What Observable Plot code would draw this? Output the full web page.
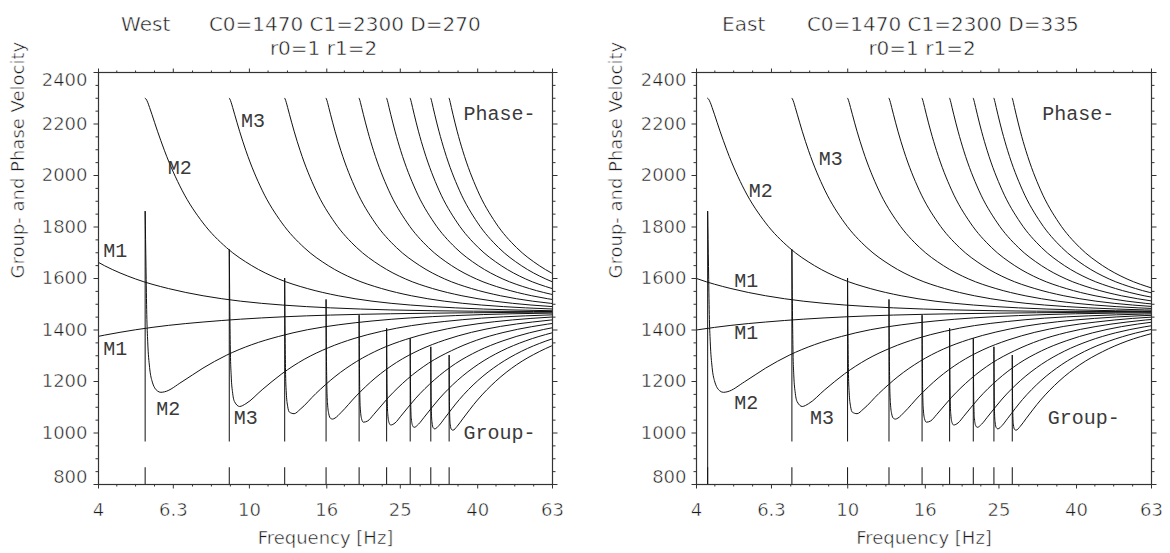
<!DOCTYPE html>
<html>
<head>
<meta charset="utf-8">
<script src="https://cdn.jsdelivr.net/npm/d3@7"></script>
<script src="https://cdn.jsdelivr.net/npm/@observablehq/plot@0.6"></script>
<style>
  html, body { margin: 0; padding: 0; background: #fff; }
  #charts { display: flex; width: 1170px; height: 553px; }
</style>
</head>
<body>
<div id="charts"></div>
<script>
// Waveguide parameters shown in the titles
const soundSpeedWater = 1470;
const soundSpeedBottom = 2300;
const densityWater = 1;
const densityBottom = 2;
const panelNames = ["West", "East"];
const panelDepths = [270, 335];

// Axis ticks
const freqTicks = [4, 6.3, 10, 16, 25, 40, 63];
const freqTickLabels = ["4", "6.3", "10", "16", "25", "40", "63"];
const freqMinorTicks = [4.47, 5.01, 5.62, 7.08, 7.94, 8.91, 11.2, 12.6, 14.1, 17.8, 20.0, 22.4, 28.2, 31.6, 35.5, 44.7, 50.1, 56.2];
const velTicks = [800, 1000, 1200, 1400, 1600, 1800, 2000, 2200, 2400];
const velMinorTicks = [850, 900, 950, 1050, 1100, 1150, 1250, 1300, 1350, 1450, 1500, 1550,
  1650, 1700, 1750, 1850, 1900, 1950, 2050, 2100, 2150, 2250, 2300, 2350];

// Modes and their cutoff frequencies [Hz]
const modeNames = ["M1", "M2", "M3", "M4", "M5", "M6", "M7", "M8", "M9", "M10"];
const cutoffWest = [1.770, 5.31, 8.85, 12.39, 15.93, 19.47, 23.01, 26.55, 30.09, 33.63];
const cutoffEast = [1.426, 4.28, 7.13, 9.99, 12.84, 15.69, 18.54, 21.40, 24.25, 27.10];

// Vertical cutoff lines of modes M2..M10 (upper end, lower end per panel)
const cutoffLineTop = [1860, 1711, 1600, 1517, 1456, 1405, 1366, 1333, 1301];
const cutoffLineFloorWest = [965, 965, 965, 965, 965, 965, 965, 965, 965];
const cutoffLineFloorEast = [800, 965, 965, 965, 965, 965, 965, 965, 965];
const cutoffMarkTop = 865;

// Dispersion samples per mode: [frequency / cutoff, phase velocity, group velocity]
const mode1 = [
  [1.9526, 1720, 1356], [2.3421, 1650, 1380], [2.8320, 1598, 1401], [3.4552, 1561, 1418],
  [4.2650, 1533, 1431], [5.3540, 1512, 1442], [6.8942, 1497, 1451], [9.2441, 1486, 1458],
  [13.293, 1478, 1463], [22.012, 1473, 1467], [31.744, 1472, 1469], [55.17, 1471, 1470]
];
const mode2 = [
  [1, 2300, 1860], [1.0051, 2297, 1646], [1.0099, 2292, 1460], [1.0157, 2284, 1354],
  [1.0273, 2264, 1255], [1.0416, 2238, 1204], [1.0779, 2172, 1163], [1.1001, 2135, 1158],
  [1.1249, 2096, 1160], [1.2508, 1943, 1199], [1.4207, 1816, 1252], [1.6383, 1720, 1302],
  [1.9105, 1650, 1343], [2.2500, 1598, 1375], [2.6779, 1561, 1401], [3.2293, 1533, 1420],
  [3.9656, 1512, 1435], [5.0012, 1497, 1447], [6.5751, 1486, 1456], [9.2797, 1478, 1463],
  [15.097, 1473, 1467]
];
const mode3 = [
  [1, 2300, 1711], [1.0034, 2297, 1476], [1.0069, 2292, 1310], [1.0114, 2284, 1226],
  [1.0209, 2264, 1154], [1.0329, 2238, 1121], [1.0646, 2172, 1103], [1.1065, 2096, 1114],
  [1.2208, 1943, 1168], [1.3763, 1816, 1230], [1.5754, 1720, 1286], [1.8242, 1650, 1331],
  [2.1336, 1598, 1367], [2.5224, 1561, 1395], [3.0222, 1533, 1417], [3.6879, 1512, 1433],
  [4.6227, 1497, 1446], [6.0413, 1486, 1455], [8.4772, 1478, 1462], [13.713, 1473, 1467]
];
const mode4 = [
  [1, 2300, 1600], [1.0026, 2297, 1372], [1.0056, 2292, 1227], [1.0096, 2284, 1159],
  [1.0181, 2264, 1104], [1.0292, 2238, 1081], [1.0589, 2172, 1075], [1.0987, 2096, 1092],
  [1.2080, 1943, 1153], [1.3572, 1816, 1219], [1.5485, 1720, 1278], [1.7872, 1650, 1326],
  [2.0838, 1598, 1363], [2.4558, 1561, 1392], [2.9334, 1533, 1415], [3.5689, 1512, 1432],
  [4.4604, 1497, 1445], [5.8125, 1486, 1455], [8.1332, 1478, 1462]
];
const mode5 = [
  [1, 2300, 1517], [1.0022, 2297, 1301], [1.0049, 2292, 1175], [1.0086, 2284, 1118],
  [1.0166, 2264, 1074], [1.0272, 2238, 1057], [1.0402, 2207, 1054], [1.0558, 2172, 1058],
  [1.0943, 2096, 1079], [1.2009, 1943, 1144], [1.3466, 1816, 1213], [1.5335, 1720, 1274],
  [1.7667, 1650, 1323], [2.0560, 1598, 1361], [2.4188, 1561, 1391], [2.8841, 1533, 1414],
  [3.5028, 1512, 1431], [4.3703, 1497, 1445], [5.6854, 1486, 1455]
];
const mode6 = [
  [1, 2300, 1456], [1.0020, 2297, 1251], [1.0045, 2292, 1139], [1.0079, 2284, 1090],
  [1.0156, 2264, 1054], [1.0258, 2238, 1042], [1.0538, 2172, 1047], [1.0916, 2096, 1071],
  [1.1963, 1943, 1139], [1.3399, 1816, 1209], [1.5240, 1720, 1271], [1.7536, 1650, 1320],
  [2.0384, 1598, 1360], [2.3952, 1561, 1390], [2.8527, 1533, 1413], [3.4607, 1512, 1431],
  [4.3129, 1497, 1445]
];
const mode7 = [
  [1, 2300, 1405], [1.0018, 2297, 1213], [1.0042, 2292, 1113], [1.0075, 2284, 1070],
  [1.0149, 2264, 1040], [1.0249, 2238, 1031], [1.0524, 2172, 1039], [1.0896, 2096, 1065],
  [1.1932, 1943, 1135], [1.3352, 1816, 1206], [1.5174, 1720, 1269], [1.7446, 1650, 1319],
  [2.0262, 1598, 1358], [2.3789, 1561, 1389], [2.8310, 1533, 1413], [3.4316, 1512, 1431]
];
const mode8 = [
  [1, 2300, 1366], [1.0017, 2297, 1183], [1.0039, 2292, 1093], [1.0071, 2284, 1055],
  [1.0145, 2264, 1029], [1.0243, 2238, 1022], [1.0513, 2172, 1034], [1.0882, 2096, 1061],
  [1.1909, 1943, 1132], [1.3318, 1816, 1204], [1.5126, 1720, 1267], [1.7379, 1650, 1318],
  [2.0172, 1598, 1358], [2.3670, 1561, 1389], [2.8150, 1533, 1412], [3.4102, 1512, 1430]
];
const mode9 = [
  [1, 2300, 1333], [1.0016, 2297, 1159], [1.0038, 2292, 1077], [1.0069, 2284, 1043],
  [1.0141, 2264, 1021], [1.0238, 2238, 1016], [1.0506, 2172, 1029], [1.0871, 2096, 1057],
  [1.1891, 1943, 1130], [1.3292, 1816, 1203], [1.5089, 1720, 1266], [1.7328, 1650, 1317],
  [2.0104, 1598, 1357], [2.3578, 1561, 1388], [2.8028, 1533, 1412]
];
const mode10 = [
  [1, 2300, 1301], [1.0015, 2297, 1139], [1.0036, 2292, 1064], [1.0067, 2284, 1034],
  [1.0138, 2264, 1014], [1.0234, 2238, 1011], [1.0499, 2172, 1026], [1.0863, 2096, 1055],
  [1.1877, 1943, 1128], [1.3271, 1816, 1201], [1.5060, 1720, 1265], [1.7288, 1650, 1316],
  [2.0050, 1598, 1357], [2.3506, 1561, 1388]
];
const modeSamples = [mode1, mode2, mode3, mode4, mode5, mode6, mode7, mode8, mode9, mode10];

// Curve annotations: text anchored at (frequency, velocity)
const notesWest = [
  {text: "M1", f: 4.12, v: 1682}, {text: "M1", f: 4.12, v: 1301},
  {text: "M2", f: 6.09, v: 2007}, {text: "M3", f: 9.51, v: 2188},
  {text: "Phase-", f: 36.7, v: 2214},
  {text: "M2", f: 5.68, v: 1068}, {text: "M3", f: 9.09, v: 1036},
  {text: "Group-", f: 36.7, v: 978}
];
const notesEast = [
  {text: "M1", f: 5.03, v: 1566}, {text: "M1", f: 5.03, v: 1366},
  {text: "M2", f: 5.49, v: 1916}, {text: "M3", f: 8.39, v: 2039},
  {text: "Phase-", f: 32.5, v: 2214},
  {text: "M2", f: 5.03, v: 1094}, {text: "M3", f: 7.96, v: 1036},
  {text: "Group-", f: 33.6, v: 1036}
];

const ink = "#111";
const axisInk = "#333";
const textInk = "#1a1a1a";
const noteInk = "#3a3a3a";
const sans = "'DejaVu Sans', sans-serif";
const mono = "'Liberation Mono', 'DejaVu Sans Mono', monospace";

// thin strokes: a white outline painted over the glyph fill
const thinSans = {fill: textInk, stroke: "white", strokeWidth: 0.5, paintOrder: "normal"};

const layouts = [
  {cutoff: cutoffWest, floor: cutoffLineFloorWest, notes: notesWest, marginLeft: 98, marginRight: 33, tickDx: -11, nameDx: 22.6},
  {cutoff: cutoffEast, floor: cutoffLineFloorEast, notes: notesEast, marginLeft: 111, marginRight: 19, tickDx: -10, nameDx: 25.6}
];

function panel(p) {
  const L = layouts[p];
  const rows = modeSamples.flatMap((samples, m) =>
    samples.map(([ratio, phase, group]) => ({mode: modeNames[m], f: ratio * L.cutoff[m], phase, group})));
  const cuts = modeNames.slice(1).map((mode, j) => ({mode, f: L.cutoff[j + 1], floor: L.floor[j], top: cutoffLineTop[j]}));
  const midTicks = velTicks.filter((v) => v > velTicks[0] && v < velTicks[velTicks.length - 1]);

  const chart = Plot.plot({
    width: 585,
    height: 553,
    marginTop: 72,
    marginBottom: 69,
    marginLeft: L.marginLeft,
    marginRight: L.marginRight,
    x: {type: "log", domain: [4, 63], axis: null},
    y: {domain: [800, 2400], axis: null},
    style: {background: "#fff", color: textInk, fontFamily: sans, overflow: "visible"},
    marks: [
      // phase and group velocity curves
      Plot.line(rows, {x: "f", y: "phase", z: "mode", curve: "monotone-x", stroke: ink, strokeWidth: 1, clip: true}),
      Plot.line(rows, {x: "f", y: "group", z: "mode", curve: "monotone-x", stroke: ink, strokeWidth: 1, clip: true}),
      // cutoff markers
      Plot.ruleX(cuts, {x: "f", y1: "floor", y2: "top", stroke: ink, strokeWidth: 1}),
      Plot.ruleX(cuts, {x: "f", y1: () => 800, y2: () => cutoffMarkTop, stroke: ink, strokeWidth: 1}),
      // box with outward ticks on all sides
      Plot.frame({stroke: axisInk, strokeWidth: 1.2}),
      Plot.axisX(freqTicks, {anchor: "bottom", tickSize: 4.5, tickFormat: () => "", label: null, stroke: axisInk}),
      Plot.axisX(freqTicks, {anchor: "top", tickSize: 4.5, tickFormat: () => "", label: null, stroke: axisInk}),
      Plot.axisX(freqMinorTicks, {anchor: "bottom", tickSize: 2.5, tickFormat: () => "", label: null, stroke: axisInk}),
      Plot.axisX(freqMinorTicks, {anchor: "top", tickSize: 2.5, tickFormat: () => "", label: null, stroke: axisInk}),
      Plot.axisY(velTicks, {anchor: "left", tickSize: 4.5, tickFormat: () => "", label: null, stroke: axisInk}),
      Plot.axisY(velTicks, {anchor: "right", tickSize: 4.5, tickFormat: () => "", label: null, stroke: axisInk}),
      Plot.axisY(velMinorTicks, {anchor: "left", tickSize: 2.5, tickFormat: () => "", label: null, stroke: axisInk}),
      Plot.axisY(velMinorTicks, {anchor: "right", tickSize: 2.5, tickFormat: () => "", label: null, stroke: axisInk}),
      // tick labels
      Plot.text(freqTicks, {x: (d) => d, text: (d, i) => freqTickLabels[i], frameAnchor: "bottom", dy: 31, lineAnchor: "bottom", fontSize: 18, ...thinSans}),
      Plot.text(midTicks, {y: (d) => d, text: (d) => String(d), frameAnchor: "left", dx: L.tickDx, textAnchor: "end", lineAnchor: "middle", fontSize: 18, ...thinSans}),
      Plot.text([velTicks[velTicks.length - 1]], {y: (d) => d, text: (d) => String(d), frameAnchor: "left", dx: L.tickDx, dy: 8, textAnchor: "end", lineAnchor: "middle", fontSize: 18, ...thinSans}),
      Plot.text([velTicks[0]], {y: (d) => d, text: (d) => String(d), frameAnchor: "left", dx: L.tickDx, dy: -7, textAnchor: "end", lineAnchor: "middle", fontSize: 18, ...thinSans}),
      // axis titles
      Plot.text(["Frequency [Hz]"], {frameAnchor: "bottom", dy: 59, lineAnchor: "bottom", fontSize: 18, ...thinSans, ariaLabel: "x-title"}),
      Plot.text(["Group- and Phase Velocity"], {frameAnchor: "left", dx: -80, rotate: -90, lineAnchor: "middle", fontSize: 18, ...thinSans, ariaLabel: "y-title"}),
      // panel titles
      Plot.text([panelNames[p]], {frameAnchor: "top-left", dx: L.nameDx, dy: -42, textAnchor: "start", lineAnchor: "bottom", fontSize: 20, ...thinSans}),
      Plot.text([`C0=${soundSpeedWater} C1=${soundSpeedBottom} D=${panelDepths[p]}`], {frameAnchor: "top-left", dx: 110.4, dy: -42, textAnchor: "start", lineAnchor: "bottom", fontSize: 20, ...thinSans, ariaLabel: "title-params"}),
      Plot.text([`r0=${densityWater} r1=${densityBottom}`], {frameAnchor: "top", dx: -2, dy: -18, lineAnchor: "bottom", fontSize: 20, ...thinSans, ariaLabel: "title-density"}),
      // curve annotations
      Plot.text(L.notes, {x: "f", y: "v", text: "text", textAnchor: "start", lineAnchor: "bottom", fontSize: 20, fontFamily: mono, fill: noteInk})
    ]
  });

  const svg = d3.select(chart);
  svg.selectAll('g[aria-label="title-params"] text').attr("textLength", 316.5).attr("lengthAdjust", "spacing");
  svg.selectAll('g[aria-label="title-density"] text').attr("textLength", 124.5).attr("lengthAdjust", "spacing");
  svg.selectAll('g[aria-label="y-title"] text').attr("textLength", 286).attr("lengthAdjust", "spacing");
  svg.selectAll('g[aria-label="x-title"] text').attr("textLength", 141).attr("lengthAdjust", "spacing");
  return chart;
}

const host = document.getElementById("charts");
host.appendChild(panel(0));
host.appendChild(panel(1));
</script>
</body>
</html>
